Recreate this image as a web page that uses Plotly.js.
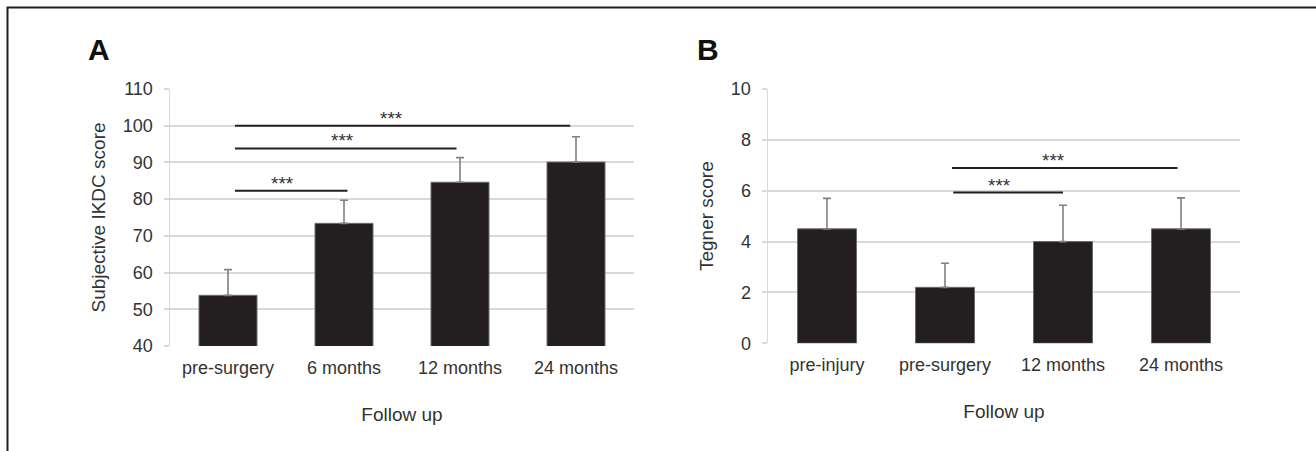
<!DOCTYPE html>
<html>
<head>
<meta charset="utf-8">
<script src="https://cdn.plot.ly/plotly-3.0.1.min.js"></script>
<style>html,body{margin:0;padding:0;background:#fff;}#chart{width:1316px;height:451px;}</style>
</head>
<body>
<div id="chart"></div>
<script>
// ---- Data ----
const catsA = ['pre-surgery', '6 months', '12 months', '24 months'];
const ikdcMean = [53.8, 73.4, 84.6, 90.1];
const ikdcSD = [7.0, 6.3, 6.7, 6.9];

const catsB = ['pre-injury', 'pre-surgery', '12 months', '24 months'];
const tegnerMean = [4.5, 2.2, 4.0, 4.5];
const tegnerSD = [1.2, 0.95, 1.43, 1.22];

// significance brackets (category-index units on x, score on y)
const sigAStart = [0.06, 0.06, 0.06];
const sigAEnd = [1.03, 1.97, 2.95];
const sigAY = [82.3, 93.8, 100.0];
const sigALabelX = [0.47, 0.99, 1.41];
const sigLabel = '***';

const sigBStart = [1.07, 1.06];
const sigBEnd = [2.0, 2.97];
const sigBY = [5.93, 6.89];
const sigBLabelX = [1.46, 1.92];

// ---- Styling ----
const FONT = '"Liberation Sans", Arial, Helvetica, sans-serif';
const TXT = '#333333';
const BAR = '#231f20';
const GRID = '#d9d9d9';
const W = 1316, H = 451;

function barTrace(cats, vals, sd, xa, ya) {
  return {
    type: 'bar', x: cats, y: vals, xaxis: xa, yaxis: ya,
    marker: {color: BAR, line: {color: '#6b6b6b', width: 1}},
    error_y: {type: 'data', symmetric: false, array: sd, arrayminus: sd.map(() => 0),
              color: '#808080', thickness: 1.6, width: 4},
    hoverinfo: 'x+y', showlegend: false
  };
}

const shapes = [];
const annotations = [];
sigAY.forEach((y, i) => {
  shapes.push({type: 'line', xref: 'x', yref: 'y', x0: sigAStart[i], x1: sigAEnd[i], y0: y, y1: y,
               line: {color: BAR, width: 2}});
  annotations.push({xref: 'x', yref: 'y', x: sigALabelX[i], y: y, text: sigLabel, showarrow: false,
                    xanchor: 'center', yanchor: 'bottom', yshift: -5, font: {family: FONT, size: 19, color: TXT}});
});
sigBY.forEach((y, i) => {
  shapes.push({type: 'line', xref: 'x2', yref: 'y2', x0: sigBStart[i], x1: sigBEnd[i], y0: y, y1: y,
               line: {color: BAR, width: 2}});
  annotations.push({xref: 'x2', yref: 'y2', x: sigBLabelX[i], y: y, text: sigLabel, showarrow: false,
                    xanchor: 'center', yanchor: 'bottom', yshift: -5, font: {family: FONT, size: 19, color: TXT}});
});
// outer frame
shapes.push({type: 'rect', xref: 'paper', yref: 'paper', x0: 7.5 / W, x1: 1.05, y0: -0.05, y1: 1 - 7.5 / H,
             line: {color: BAR, width: 2}, fillcolor: 'rgba(0,0,0,0)'});
// panel letters
annotations.push({xref: 'paper', yref: 'paper', x: 86 / W, y: 1 - 49 / H, text: '<b>A</b>', showarrow: false,
                  xanchor: 'left', yanchor: 'middle', font: {family: FONT, size: 30, color: '#111'}});
annotations.push({xref: 'paper', yref: 'paper', x: 695 / W, y: 1 - 49 / H, text: '<b>B</b>', showarrow: false,
                  xanchor: 'left', yanchor: 'middle', font: {family: FONT, size: 30, color: '#111'}});

function xAxis(domain, anchor) {
  return {domain: domain, anchor: anchor, type: 'category', showgrid: false, zeroline: false,
          showline: false, ticks: '', ticklabelstandoff: 9,
          tickfont: {family: FONT, size: 18, color: TXT},
          title: {text: 'Follow up', font: {family: FONT, size: 19, color: TXT}, standoff: 30},
          fixedrange: true};
}
function yAxis(domain, anchor, range, dtick, title) {
  return {domain: domain, anchor: anchor, range: range, dtick: dtick, tick0: range[0],
          showgrid: true, gridcolor: GRID, gridwidth: 2, zeroline: false,
          showline: true, linecolor: GRID, linewidth: 1.5,
          ticks: 'outside', ticklen: 5, tickcolor: GRID, tickwidth: 2, ticklabelstandoff: 7,
          tickfont: {family: FONT, size: 18, color: TXT},
          title: {text: title, font: {family: FONT, size: 19, color: TXT}, standoff: 12},
          fixedrange: true};
}

const layout = {
  width: W, height: H,
  margin: {l: 0, r: 0, t: 0, b: 0},
  paper_bgcolor: '#fff', plot_bgcolor: '#fff',
  bargap: 0.5,
  xaxis: xAxis([170 / W, 634 / W], 'y'),
  yaxis: yAxis([105 / H, 362 / H], 'x', [40, 110], 10, 'Subjective IKDC score'),
  xaxis2: xAxis([768 / W, 1240 / W], 'y2'),
  yaxis2: yAxis([107.7 / H, 362 / H], 'x2', [0, 10], 2, 'Tegner score'),
  shapes: shapes,
  annotations: annotations,
  showlegend: false
};

Plotly.newPlot('chart', [
  barTrace(catsA, ikdcMean, ikdcSD, 'x', 'y'),
  barTrace(catsB, tegnerMean, tegnerSD, 'x2', 'y2')
], layout, {displayModeBar: false, staticPlot: true});
</script>
</body>
</html>
